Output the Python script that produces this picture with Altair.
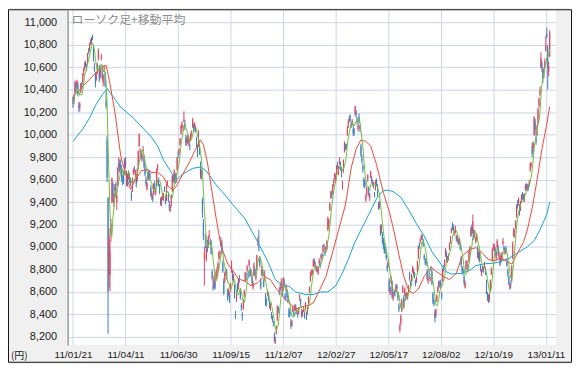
import altair as alt
import pandas as pd

# ---------------- data ----------------
tick_labels = ["11/01/21", "11/04/11", "11/06/30", "11/09/15", "11/12/07",
               "12/02/27", "12/05/17", "12/08/02", "12/10/19", "13/01/11"]
tick_days = [0, 54, 108, 162, 216, 270, 324, 378, 432, 486]
price_ticks = [8200, 8400, 8600, 8800, 9000, 9200, 9400, 9600, 9800,
               10000, 10200, 10400, 10600, 10800, 11000]

opens = [
    10330,10300,10370,10450,10440,10450,10260,
    10250,10380,10450,10470,10560,10600,10640,10610,10640,10750,10760,10820,10850,10870,10780,10600,10540,10500,10560,
    10680,10600,10520,10680,10600,10460,10580,10540,10300,9960,9441,8750,8750,9100,9400,9560,9390,9500,9560,9400,9550,9720,
    9740,9730,9700,9590,9620,9650,9780,9650,9560,9630,9620,9600,9470,9500,9660,9690,9640,9620,9600,9700,
    9900,9850,9840,9790,9860,9800,9700,9600,9520,9600,9660,9650,9530,9440,9450,9470,9560,9480,9540,
    9700,9600,9530,9420,9390,9440,9440,9520,9420,9420,9560,9470,9380,9340,9370,9500,9620,9600,9640,9580,9690,9820,
    9840,9910,10010,10090,10060,10120,10100,9970,9920,9950,9930,9900,9950,10010,10080,10080,10060,10060,9960,9880,
    9900,9900,9720,9650,9420,9210,8900,9040,8890,9020,9000,9100,9060,9040,8780,8660,8650,8690,8720,8770,8800,8900,8940,
    9020,9040,8860,8700,8700,8780,8780,8610,8580,8570,8620,8780,8760,8700,8650,8400,8520,8650,8640,8720,
    8600,8480,8400,8450,8570,8700,8740,8800,8770,8840,8800,8770,8730,8640,8750,8800,8720,8800,9040,9000,
    8900,8700,8760,8780,8700,8720,8560,8520,8580,8570,8500,8440,8400,8370,8320,8220,8150,8230,8350,8450,
    8600,8620,8650,8630,8620,8700,8570,8620,8600,8540,8440,8420,8340,8300,8430,8420,8440,8470,8420,8400,8410,
    8550,8530,8430,8410,8440,8400,8450,8400,8410,8500,8610,8700,8780,8760,8830,8880,8840,8810,8790,
    8770,8860,8850,8900,8930,8960,9010,8960,8970,8980,9150,9200,9330,9440,9480,9480,9570,9630,9600,9660,9740,
    9660,9760,9740,9680,9530,9670,9850,9900,9900,10000,10090,10140,10150,10100,10100,10050,10040,10180,10200,10140,10050,
    10160,10080,9900,9790,9720,9600,9580,9420,9470,9600,9520,9440,9620,9610,9560,9560,9470,9520,9590,9540,
    9380,9360,9180,9140,9110,9060,9010,8980,8930,8840,8840,8700,8590,8680,8680,8540,8580,8610,8610,8650,8590,
    8480,8260,8320,8430,8600,8550,8580,8570,8560,8560,8600,8760,8680,8700,8790,8770,8760,8690,8700,8780,8900,
    9020,9050,9080,9090,9050,8920,8870,8880,8780,8700,8760,8710,8800,8780,8580,8520,8420,8390,8520,8600,8650,
    8680,8680,8580,8700,8820,8830,8920,8940,8880,8900,8980,9050,9130,9180,9180,9130,9130,9100,9060,9060,9040,9020,8900,
    8820,8790,8740,8640,8800,8860,8840,8870,8970,9100,9180,9130,9140,9100,9060,9070,8990,8900,8950,
    8830,8760,8800,8800,8830,8800,8690,8580,8560,8540,8620,8760,8880,8990,8980,8980,8900,9000,9000,8910,8900,8880,
    8900,9030,9000,8950,8990,8880,8790,8730,8640,8680,8700,8900,9100,9130,9180,9270,9400,9390,9360,9350,9420,
    9460,9450,9420,9520,9550,9520,9540,9560,9680,9730,9900,9850,10000,10120,9960,10000,10100,10260,10360,
    10600,10640,10580,10520,10600,10750,10900,10780,10560,10700,
]
highs = [
    10340,10360,10480,10470,10490,10470,10290,
    10290,10460,10470,10550,10600,10650,10660,10630,10730,10770,10820,10850,10870,10891,10800,10640,10560,10560,10640,
    10768,10620,10600,10720,10620,10540,10620,10560,10380,9990,9441,9168,9060,9250,9620,9580,9480,9560,9580,9470,9710,9800,
    9780,9780,9730,9640,9680,9790,9800,9680,9650,9680,9660,9620,9500,9620,9700,9720,9690,9640,9700,9860,
    10010,9880,9860,9830,9900,9820,9730,9630,9580,9680,9690,9680,9550,9500,9470,9570,9590,9520,9700,
    9740,9620,9560,9440,9450,9480,9480,9540,9450,9560,9590,9490,9410,9370,9470,9640,9640,9690,9660,9660,9800,9850,
    9880,9970,10090,10120,10090,10207,10130,10000,9990,10000,9990,9930,10020,10040,10150,10100,10110,10080,9980,9900,
    10040,9920,9760,9690,9440,9250,9000,9120,9010,9060,9100,9150,9080,9060,8800,8700,8750,8710,8790,8820,8870,8960,8970,
    9090,9060,8880,8720,8780,8810,8800,8630,8630,8600,8680,8880,8790,8760,8670,8430,8620,8680,8720,8750,
    8620,8500,8420,8540,8620,8780,8770,8840,8790,8890,8820,8800,8750,8700,8860,8810,8770,8930,9090,9152,
    8920,8720,8830,8800,8720,8790,8590,8540,8620,8600,8520,8500,8420,8390,8340,8240,8200,8300,8480,8470,
    8640,8670,8720,8650,8730,8720,8590,8670,8620,8560,8460,8450,8360,8350,8480,8440,8490,8490,8450,8430,8460,
    8580,8540,8450,8440,8470,8420,8510,8420,8470,8560,8650,8780,8800,8800,8890,8900,8870,8830,8820,
    8820,8900,8880,8940,8950,9020,9030,8990,9010,9060,9270,9250,9400,9500,9500,9560,9610,9660,9650,9730,9760,
    9720,9800,9760,9700,9590,9780,9940,9920,9920,10080,10140,10170,10180,10120,10140,10080,10060,10255,10220,10160,10100,
    10190,10090,9920,9820,9740,9620,9600,9470,9540,9650,9540,9480,9680,9630,9600,9580,9490,9600,9610,9560,
    9400,9410,9200,9200,9130,9080,9040,9000,8950,8860,8890,8720,8650,8740,8700,8600,8610,8620,8670,8670,8600,
    8500,8320,8400,8540,8660,8570,8640,8590,8600,8590,8660,8780,8700,8760,8830,8810,8780,8710,8740,8880,9010,
    9040,9080,9110,9110,9070,8940,8900,8900,8800,8740,8790,8740,8830,8800,8600,8540,8440,8450,8580,8650,8700,
    8700,8710,8600,8810,8840,8890,8990,8960,8920,8940,9040,9100,9170,9220,9200,9150,9190,9110,9100,9080,9080,9030,8920,
    8830,8810,8750,8700,8880,8880,8850,8970,9010,9180,9200,9288,9160,9150,9090,9120,9010,8960,8970,
    8850,8800,8830,8820,8870,8820,8710,8600,8580,8590,8710,8820,8990,9030,9030,9000,8970,9070,9020,8950,8920,8940,
    8960,9080,9010,8990,9010,8900,8810,8750,8680,8700,8840,9050,9170,9160,9240,9380,9420,9440,9380,9410,9470,
    9490,9470,9480,9560,9570,9560,9560,9600,9750,9760,9930,9940,10160,10140,10000,10090,10240,10330,10430,
    10734,10660,10600,10590,10680,10880,10952,10800,10650,10930,
]
lows = [
    10240,10270,10360,10380,10420,10340,10200,
    10210,10370,10410,10450,10530,10580,10600,10570,10630,10720,10740,10800,10810,10840,10650,10560,10420,10480,10540,
    10660,10470,10500,10660,10480,10430,10560,10420,10230,9578,8227,8639,8605,9050,9390,9400,9360,9440,9440,9330,9540,9680,
    9660,9680,9580,9550,9560,9640,9700,9540,9540,9600,9570,9540,9410,9490,9640,9660,9620,9530,9580,9690,
    9890,9790,9770,9760,9830,9700,9630,9540,9500,9590,9600,9590,9450,9420,9400,9460,9510,9460,9530,
    9680,9540,9470,9370,9360,9420,9410,9490,9380,9410,9540,9400,9320,9310,9360,9490,9570,9580,9560,9570,9680,9790,
    9820,9900,10000,10060,10030,10110,10040,9900,9900,9920,9900,9860,9940,9980,10060,10020,10040,10020,9880,9800,
    9890,9820,9610,9600,9260,9060,8656,8990,8870,8950,8990,9080,9020,8930,8700,8610,8630,8620,8710,8740,8790,8880,8910,
    9000,8940,8770,8570,8680,8740,8710,8520,8560,8500,8600,8770,8700,8680,8540,8359,8510,8600,8620,8680,
    8530,8430,8343,8440,8550,8690,8700,8780,8720,8820,8730,8740,8660,8620,8740,8740,8700,8790,9010,8960,
    8820,8620,8740,8740,8640,8700,8475,8470,8560,8520,8450,8430,8360,8330,8290,8150,8136,8220,8340,8410,
    8570,8600,8630,8560,8610,8640,8520,8600,8540,8500,8370,8380,8270,8290,8420,8380,8430,8430,8400,8370,8400,
    8520,8470,8370,8380,8420,8360,8440,8350,8400,8480,8590,8690,8740,8750,8820,8830,8810,8780,8770,
    8750,8840,8810,8880,8890,8950,8980,8920,8950,8970,9140,9170,9320,9430,9430,9470,9540,9600,9580,9640,9690,
    9640,9730,9680,9620,9510,9660,9840,9860,9870,9990,10060,10110,10120,10060,10080,9990,9990,10170,10150,10090,10030,
    10100,10020,9800,9740,9660,9530,9520,9400,9450,9580,9450,9410,9610,9570,9540,9520,9440,9500,9540,9450,
    9330,9340,9100,9120,9030,8980,8940,8940,8880,8780,8820,8600,8570,8670,8540,8520,8560,8560,8600,8610,8520,
    8420,8238,8300,8420,8590,8450,8560,8520,8540,8530,8580,8700,8640,8690,8770,8750,8720,8650,8680,8770,8890,
    8980,9030,9060,9060,9000,8880,8840,8830,8700,8670,8730,8690,8780,8660,8490,8470,8328,8370,8510,8590,8630,
    8640,8630,8530,8690,8780,8820,8910,8870,8860,8880,8970,9030,9120,9150,9140,9100,9120,9050,9040,9020,9020,8970,8820,
    8760,8750,8660,8630,8790,8840,8780,8860,8940,9090,9100,9120,9060,9080,9030,9050,8900,8880,8860,
    8780,8740,8780,8770,8810,8750,8580,8520,8500,8510,8610,8750,8870,8970,8960,8920,8880,8990,8920,8890,8830,8860,
    8880,9010,8950,8930,8940,8820,8730,8660,8619,8630,8690,8890,9090,9080,9160,9260,9340,9370,9280,9320,9400,
    9420,9410,9400,9500,9500,9500,9500,9540,9670,9710,9800,9840,9990,10000,9910,9990,10090,10240,10340,
    10590,10560,10460,10500,10580,10740,10860,10400,10520,10690,
]
closes = [
    10274,10345,10464,10401,10478,10360,10237,
    10274,10457,10431,10543,10592,10635,10617,10605,10725,10746,10808,10836,10842,10857,10665,10579,10452,10526,10624,
    10754,10492,10586,10693,10505,10525,10589,10434,10254,9620,8605,9093,8962,9206,9608,9449,9435,9536,9478,9459,9708,9755,
    9708,9718,9615,9584,9590,9768,9719,9555,9641,9653,9591,9556,9441,9607,9685,9682,9671,9558,9691,9849,
    10004,9859,9794,9818,9864,9716,9648,9558,9567,9662,9620,9607,9460,9477,9422,9562,9521,9504,9693,
    9719,9555,9492,9380,9442,9449,9467,9514,9391,9547,9574,9411,9351,9354,9459,9629,9597,9678,9578,9648,9797,9816,
    9868,9965,10082,10100,10071,10138,10069,9926,9963,9936,9974,9889,10005,10010,10132,10050,10097,10047,9901,9833,
    9965,9844,9637,9659,9299,9097,8944,9038,8981,8963,9086,9107,9057,8943,8719,8628,8733,8639,8772,8797,8851,8953,8955,
    9060,8950,8784,8590,8763,8793,8737,8535,8616,8518,8668,8864,8721,8741,8560,8374,8609,8615,8701,8700,
    8545,8456,8382,8522,8606,8773,8738,8823,8747,8879,8741,8772,8682,8678,8843,8762,8748,8926,9050,8988,
    8835,8640,8801,8767,8655,8755,8500,8514,8603,8541,8463,8479,8374,8348,8314,8165,8160,8287,8477,8434,
    8597,8643,8695,8575,8722,8664,8536,8653,8553,8519,8377,8401,8296,8336,8459,8395,8479,8440,8423,8398,8455,
    8560,8488,8390,8422,8447,8385,8500,8378,8466,8550,8639,8766,8785,8785,8883,8849,8841,8793,8802,
    8809,8876,8831,8929,8917,9015,9002,8947,8999,9052,9260,9238,9384,9485,9463,9554,9595,9647,9633,9722,9723,
    9707,9777,9698,9637,9576,9768,9929,9889,9899,10050,10123,10129,10141,10086,10127,10011,10018,10255,10182,10114,10083,
    10109,10050,9819,9767,9688,9546,9538,9458,9524,9637,9470,9464,9667,9588,9561,9542,9468,9590,9561,9520,
    9350,9380,9119,9181,9045,9009,8953,8973,8900,8801,8876,8611,8633,8729,8556,8563,8593,8593,8657,8633,8542,
    8440,8295,8383,8533,8639,8459,8624,8536,8587,8568,8647,8721,8655,8752,8824,8798,8735,8663,8730,8874,9006,
    9003,9066,9104,9079,9020,8896,8857,8851,8720,8724,8755,8727,8795,8669,8508,8488,8365,8443,8566,8635,8695,
    8666,8659,8555,8804,8803,8881,8979,8891,8885,8929,9033,9092,9163,9171,9156,9131,9178,9070,9085,9033,9069,8983,8839,
    8783,8775,8679,8680,8871,8869,8807,8959,8995,9159,9123,9232,9086,9110,9069,9091,8906,8949,8870,
    8796,8786,8824,8791,8863,8769,8596,8546,8534,8577,8701,8806,8982,9002,9011,8932,8954,9055,8933,8929,8841,8928,
    8946,9051,8975,8975,8964,8837,8757,8676,8662,8665,8829,9024,9153,9142,9222,9366,9389,9423,9308,9400,9446,
    9458,9432,9468,9545,9527,9533,9525,9581,9743,9737,9828,9923,10160,10039,9940,10080,10230,10322,10395,
    10688,10599,10508,10578,10652,10801,10879,10600,10609,10913,
]

# 25-day and 75-day moving-average lines (trading-day index, price)
ma25_day = [0, 7, 10, 20, 30, 34, 38, 43, 49, 54, 59, 64, 70, 77, 80, 87, 93, 98, 103, 107,
            113, 120, 126, 131, 134, 138, 142, 147, 152, 159, 164, 170, 177, 183, 190, 196,
            203, 209, 216, 222, 229, 236, 242, 247, 254, 260, 267, 273, 280, 286, 291, 296,
            301, 306, 312, 319, 325, 330, 335, 340, 345, 350, 355, 361, 368, 374, 381, 387,
            394, 400, 407, 414, 420, 427, 433, 440, 446, 451, 456, 463, 467, 472, 477, 482,
            487, 490]
ma25_val = [10340, 10400, 10430, 10520, 10600, 10618, 10452, 10203, 9816, 9650, 9512, 9595,
            9678, 9691, 9664, 9664, 9622, 9539, 9506, 9553, 9650, 9761, 9871, 9954, 9910,
            9760, 9539, 9262, 9014, 8848, 8792, 8715, 8695, 8654, 8682, 8737, 8709, 8626,
            8557, 8502, 8446, 8470, 8480, 8502, 8626, 8737, 8958, 9152, 9373, 9705, 9871,
            9954, 9940, 9899, 9733, 9484, 9318, 9138, 8931, 8737, 8612, 8585, 8626, 8737,
            8820, 8778, 8737, 8709, 8765, 8917, 8972, 8995, 8953, 8889, 8875, 8903, 8870,
            8848, 8931, 9041, 9152, 9346, 9595, 9871, 10093, 10250]
ma75_day = [0, 10, 17, 23, 30, 35, 49, 62, 80, 87, 93, 100, 106, 113, 123, 131, 137, 147,
            157, 164, 177, 190, 200, 208, 216, 222, 229, 239, 247, 254, 262, 270, 276, 283,
            289, 296, 304, 312, 319, 325, 330, 337, 345, 353, 361, 369, 378, 384, 389, 400,
            409, 414, 423, 433, 441, 449, 458, 467, 474, 480, 487, 490]
ma75_val = [9940, 10051, 10148, 10259, 10355, 10411, 10245, 10148, 9985, 9899, 9774, 9678,
            9595, 9650, 9700, 9711, 9678, 9553, 9456, 9379, 9249, 9041, 8875, 8709, 8654,
            8649, 8599, 8576, 8576, 8599, 8599, 8654, 8751, 8889, 9027, 9152, 9290, 9429,
            9504, 9504, 9489, 9442, 9332, 9207, 9097, 8958, 8848, 8778, 8759, 8765, 8798,
            8834, 8850, 8856, 8875, 8903, 8953, 9000, 9055, 9152, 9290, 9400]

title_text = "ローソク足+移動平均"
unit_text = "(円)"

# ---------------- tables ----------------
n = len(closes)
assert len(opens) == n and len(highs) == n and len(lows) == n
assert len(ma25_day) == len(ma25_val) and len(ma75_day) == len(ma75_val)
candles = pd.DataFrame({"day": list(range(n)), "open": opens, "high": highs,
                        "low": lows, "close": closes})
candles["dir"] = ["up" if c >= o else "down" for o, c in zip(opens, closes)]
ma25 = pd.DataFrame({"day": ma25_day, "value": ma25_val})
ma75 = pd.DataFrame({"day": ma75_day, "value": ma75_val})
one = pd.DataFrame({"k": [0]})

# ---------------- style ----------------
FONT = "Liberation Sans"
JP = "Noto Sans CJK JP"
GRID = "#cdd6e7"
UP, DOWN = "#e0445f", "#3f7ec4"
PW, PH = 492, 337
PAD = {"left": 60, "top": 1, "right": 16, "bottom": 18}

xs = alt.Scale(domain=[-0.5, 491.5], nice=False, zero=False)
ys = alt.Scale(domain=[8128, 11108], nice=False, zero=False)
label_expr = "[" + ",".join("'%s'" % t for t in tick_labels) + "][indexof(%s, datum.value)]" % (
    "[" + ",".join(str(d) for d in tick_days) + "]")
x_axis = alt.Axis(values=tick_days, labelExpr=label_expr, title=None, grid=True,
                  gridColor=GRID, gridWidth=1, domain=False, ticks=False, tickSize=0,
                  labelFontSize=10, labelFont=FONT, labelColor="#1a1a1a",
                  labelPadding=5, labelFlush=False, labelOverlap=False)
y_axis = alt.Axis(values=price_ticks, format=",d", title=None, grid=True, gridColor=GRID,
                  gridWidth=1, domain=True, domainColor="#6a6a6a", domainWidth=1,
                  ticks=False, tickSize=0, labelFontSize=11, labelFont=FONT,
                  labelColor="#1a1a1a", labelPadding=11)

X = alt.X("day:Q", scale=xs, axis=x_axis)
color = alt.Color("dir:N", scale=alt.Scale(domain=["up", "down"], range=[UP, DOWN]), legend=None)

wick = alt.Chart(candles).mark_rule(strokeWidth=1).encode(
    x=X, y=alt.Y("low:Q", scale=ys, axis=y_axis), y2="high:Q", color=color)
body = alt.Chart(candles).mark_bar(size=1).encode(
    x=X, y=alt.Y("open:Q", scale=ys, axis=y_axis), y2="close:Q", color=color)

ma5_line = alt.Chart(candles).transform_window(
    ma5="mean(close)", frame=[-4, 0], sort=[alt.SortField("day")]
).mark_line(color="#6cbf3e", strokeWidth=1).encode(
    x=X, y=alt.Y("ma5:Q", scale=ys, axis=y_axis))
ma25_line = alt.Chart(ma25).mark_line(color="#ef4a38", strokeWidth=1).encode(
    x=X, y=alt.Y("value:Q", scale=ys, axis=y_axis))
ma75_line = alt.Chart(ma75).mark_line(color="#17a2d3", strokeWidth=1).encode(
    x=X, y=alt.Y("value:Q", scale=ys, axis=y_axis))

title_mark = alt.Chart(one).mark_text(
    align="left", baseline="middle", font=JP, fontSize=12, color="#8c8c8c"
).encode(x=alt.value(4), y=alt.value(10), text=alt.value(title_text))
unit_mark = alt.Chart(one).mark_text(
    align="left", baseline="middle", font=JP, fontSize=10, color="#1a1a1a"
).encode(x=alt.value(-57), y=alt.value(PH + 11), text=alt.value(unit_text))
frame = alt.Chart(one).mark_rect(filled=False, stroke="#111111", strokeWidth=1).encode(
    x=alt.value(-59.5), x2=alt.value(PW + PAD["right"] - 0.5),
    y=alt.value(-0.5), y2=alt.value(PH + PAD["bottom"] - 0.5))

chart = alt.layer(
    wick, body, ma75_line, ma25_line, ma5_line, title_mark, unit_mark, frame
).properties(
    width=PW, height=PH, padding=PAD,
    autosize=alt.AutoSizeParams(type="none"),
    background="#f0f0f0",
).configure_view(fill="white", strokeWidth=0)

chart.save("out.html", embed_options={"renderer": "svg", "actions": False})
